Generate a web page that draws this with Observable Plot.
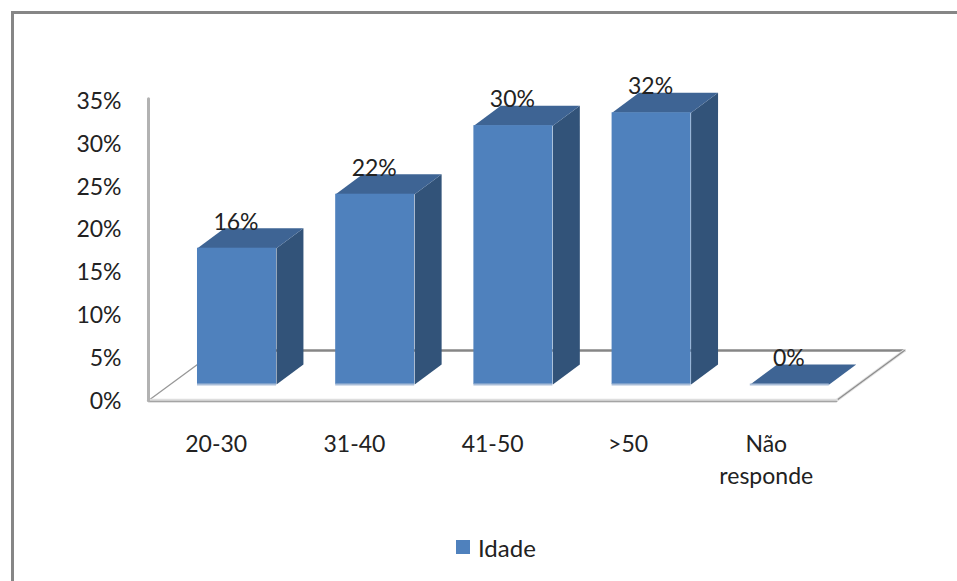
<!DOCTYPE html>
<html lang="pt">
<head>
<meta charset="utf-8">
<script src="https://cdn.jsdelivr.net/npm/d3@7"></script>
<script src="https://cdn.jsdelivr.net/npm/@observablehq/plot@0.6"></script>
<style>
  html, body { margin: 0; padding: 0; background: #fff; width: 957px; height: 581px; overflow: hidden; }
  #frame { position: absolute; left: 11px; top: 11px; width: 960px; height: 590px;
           border-left: 3px solid #868686; border-top: 3px solid #868686; pointer-events: none; }
  #chart { position: absolute; left: 0; top: 0; }
  #chart svg { display: block; background: transparent; }
  #legend { position: absolute; left: 456px; top: 533px; display: flex; align-items: center; height: 28px;
            font: 24px Lato, sans-serif; color: #222; }
  #legend i { display: inline-block; width: 14px; height: 14px; background: #4F81BD; margin-right: 8px; }
</style>
</head>
<body>
<div id="frame"></div>
<div id="chart"></div>
<div id="legend"><i></i><span id="legend-name"></span></div>
<script>
const categories = ["20-30", "31-40", "41-50", ">50", "Não\nresponde"];
const values = [15.9, 22.2, 30.2, 31.7, 0];
const dataLabels = ["16%", "22%", "30%", "32%", "0%"];
const yTicks = [0, 5, 10, 15, 20, 25, 30, 35];
const categoryPositions = [0.49, 1.49, 2.49, 3.47, 4.47];
const seriesName = "Idade";

// Pseudo-3D projection, expressed in data units of the x and y scales
const barStart = 0.3545, barWidth = 0.5716, barDepthX = 0.195, barDepthY = 2.33, barBase = 1.867;
const floorRight = 4.978, floorDepthX = 0.492, floorDepthY = 5.83, wallTop = 35.2;

const bars = values.map((v, i) => {
  const x0 = i + barStart, x1 = x0 + barWidth, y0 = barBase, y1 = barBase + v;
  return {i, v, x0, x1, y0, y1, label: dataLabels[i]};
});
const poly = (id, pts) => pts.map(([x, y]) => ({id, x, y}));
const sideFaces = bars.filter(b => b.v > 0).flatMap(b => poly(b.i, [
  [b.x1, b.y0], [b.x1, b.y1], [b.x1 + barDepthX, b.y1 + barDepthY], [b.x1 + barDepthX, b.y0 + barDepthY]
]));
const topFaces = bars.flatMap(b => poly(b.i, [
  [b.x0, b.y1], [b.x1, b.y1], [b.x1 + barDepthX, b.y1 + barDepthY], [b.x0 + barDepthX, b.y1 + barDepthY]
]));
const frontBars = bars.filter(b => b.v > 0);

const face = (data, fill) => Plot.line(data, {x: "x", y: "y", z: "id", fill, stroke: "none", curve: "linear-closed"});

const plot = Plot.plot({
  width: 957,
  height: 530,
  marginLeft: 148,
  marginRight: 957 - 839,
  marginTop: 100,
  marginBottom: 130,
  x: {domain: [0, 5], axis: null},
  y: {domain: [0, 35], axis: null},
  style: {background: "transparent", fontFamily: "Lato, sans-serif", color: "#222"},
  marks: [
    // floor back edge and diagonals
    Plot.line([[floorDepthX, floorDepthY], [floorRight + floorDepthX, floorDepthY]],
      {x: d => d[0], y: d => d[1], stroke: "#868686", strokeWidth: 2.5}),
    Plot.line([[0, 0], [floorDepthX, floorDepthY]],
      {x: d => d[0], y: d => d[1], stroke: "#989898", strokeWidth: 1.3}),
    Plot.line([[floorRight, 0], [floorRight + floorDepthX, floorDepthY]],
      {x: d => d[0], y: d => d[1], stroke: "#e2e2e2", strokeWidth: 3}),
    Plot.line([[floorRight, 0], [floorRight + floorDepthX, floorDepthY]],
      {x: d => d[0], y: d => d[1], stroke: "#8e8e8e", strokeWidth: 1.3}),
    // floor front edge and wall axis
    Plot.line([[0, 0], [floorRight, 0]],
      {x: d => d[0], y: d => d[1], stroke: "#dedede", strokeWidth: 3.5}),
    Plot.line([[0, 0], [floorRight, 0]],
      {x: d => d[0], y: d => d[1], stroke: "#a4a4a4", strokeWidth: 1.6, dy: 1}),
    Plot.line([[0, 0], [0, wallTop]],
      {x: d => d[0], y: d => d[1], stroke: "#b2b2b2", strokeWidth: 3}),
    // bars
    face(sideFaces, "#325379"),
    face(topFaces, "#3E6494"),
    Plot.rect(frontBars, {x1: "x0", x2: "x1", y1: "y0", y2: "y1", fill: "#4F81BD"}),
    Plot.ruleY(bars, {x1: "x0", x2: "x1", y: "y0", stroke: "#a9bdd8", strokeWidth: 2}),
    // data labels
    Plot.text(bars, {
      x: d => d.x0 + barWidth / 2, y: "y1", text: "label",
      dy: -26, dx: -1, fontSize: 23, fill: "#222", textAnchor: "middle", lineAnchor: "middle"
    }),
    // axes
    Plot.axisY({ticks: yTicks, tickFormat: d => d + "%", tickSize: 0, tickPadding: 27, fontSize: 23, fill: "#222", dy: 1}),
    Plot.axisX({
      ticks: categoryPositions,
      tickFormat: (d, i) => categories[i],
      tickSize: 0, tickPadding: 29, fontSize: 23, fill: "#222", lineHeight: 1.38
    })
  ]
});
document.getElementById("chart").appendChild(plot);
document.getElementById("legend-name").textContent = seriesName;
</script>
</body>
</html>
